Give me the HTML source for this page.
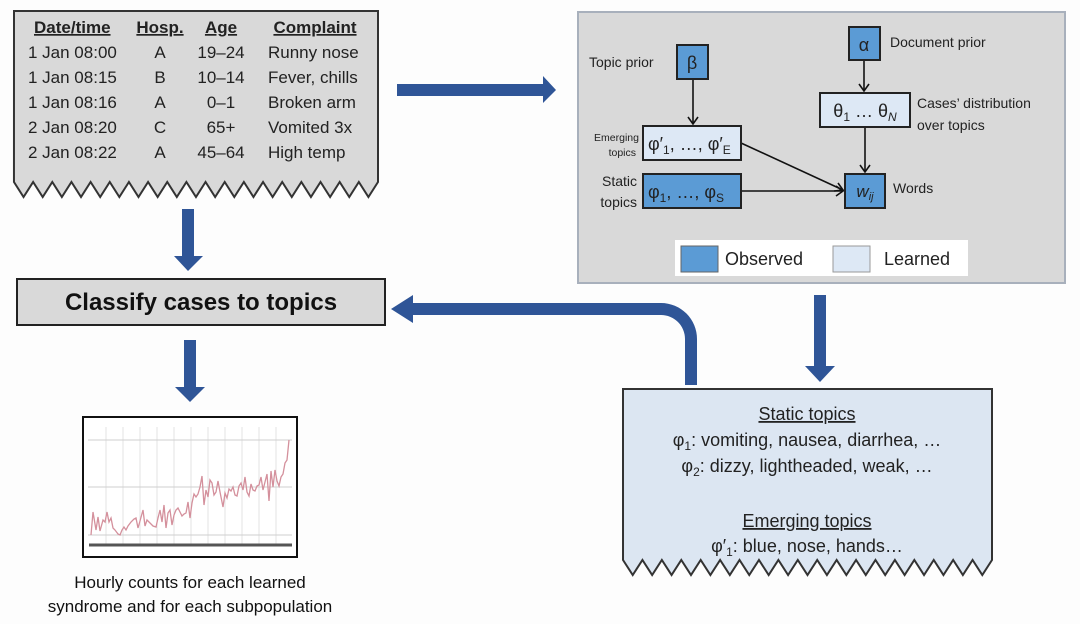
<!DOCTYPE html>
<html><head><meta charset="utf-8"><style>
html,body{margin:0;padding:0;background:#fff;}
svg{display:block;font-family:"Liberation Sans","DejaVu Sans",sans-serif;}
</style></head><body>
<svg width="1080" height="624" viewBox="0 0 1080 624" xmlns="http://www.w3.org/2000/svg">
<rect width="1080" height="624" fill="#fdfdfd"/>
<!-- table document -->
<path d="M14,11 H378 V182 l-9.58,15 l-9.58,-15 l-9.58,15 l-9.58,-15 l-9.58,15 l-9.58,-15 l-9.58,15 l-9.58,-15 l-9.58,15 l-9.58,-15 l-9.58,15 l-9.58,-15 l-9.58,15 l-9.58,-15 l-9.58,15 l-9.58,-15 l-9.58,15 l-9.58,-15 l-9.58,15 l-9.58,-15 l-9.58,15 l-9.58,-15 l-9.58,15 l-9.58,-15 l-9.58,15 l-9.58,-15 l-9.58,15 l-9.58,-15 l-9.58,15 l-9.58,-15 l-9.58,15 l-9.58,-15 l-9.58,15 l-9.58,-15 l-9.58,15 l-9.58,-15 l-9.58,15 l-9.58,-15 Z" fill="#d9d9d9" stroke="#333" stroke-width="2"/>
<g font-size="17" fill="#222">
<g font-weight="bold" text-decoration="underline">
<text x="34" y="33">Date/time</text>
<text x="160" y="33" text-anchor="middle">Hosp.</text>
<text x="221" y="33" text-anchor="middle">Age</text>
<text x="315" y="33" text-anchor="middle">Complaint</text>
</g>
<text x="28" y="58">1 Jan 08:00</text><text x="160" y="58" text-anchor="middle">A</text><text x="221" y="58" text-anchor="middle">19–24</text><text x="268" y="58">Runny nose</text>
<text x="28" y="83">1 Jan 08:15</text><text x="160" y="83" text-anchor="middle">B</text><text x="221" y="83" text-anchor="middle">10–14</text><text x="268" y="83">Fever, chills</text>
<text x="28" y="108">1 Jan 08:16</text><text x="160" y="108" text-anchor="middle">A</text><text x="221" y="108" text-anchor="middle">0–1</text><text x="268" y="108">Broken arm</text>
<text x="28" y="133">2 Jan 08:20</text><text x="160" y="133" text-anchor="middle">C</text><text x="221" y="133" text-anchor="middle">65+</text><text x="268" y="133">Vomited 3x</text>
<text x="28" y="158">2 Jan 08:22</text><text x="160" y="158" text-anchor="middle">A</text><text x="221" y="158" text-anchor="middle">45–64</text><text x="268" y="158">High temp</text>
</g>
<!-- blue arrows -->
<g fill="#2f5597">
<polygon points="397,84 543,84 543,76 556,90 543,103 543,96 397,96"/>
<polygon points="182,209 194,209 194,256 203,256 188,271 174,256 182,256"/>
<polygon points="184,340 196,340 196,387 205,387 190,402 175,387 184,387"/>
<polygon points="814,295 826,295 826,366 835,366 820,382 805,366 814,366"/>
<path d="M391,309 L413,295 L413,303 L661,303 A36,36 0 0 1 697,339 L697,385 L685,385 L685,339 A24,24 0 0 0 661,315 L413,315 L413,323 Z"/>
</g>
<!-- classify -->
<rect x="17" y="279" width="368" height="46" fill="#d9d9d9" stroke="#222" stroke-width="2"/>
<text x="201" y="310" font-size="24" font-weight="bold" text-anchor="middle" fill="#111">Classify cases to topics</text>
<!-- chart -->
<rect x="83" y="417" width="214" height="140" fill="#fff" stroke="#111" stroke-width="2"/>
<g stroke="#e3e3e3" stroke-width="1">
<line x1="106" y1="427" x2="106" y2="545"/><line x1="123" y1="427" x2="123" y2="545"/><line x1="140" y1="427" x2="140" y2="545"/><line x1="157" y1="427" x2="157" y2="545"/><line x1="174" y1="427" x2="174" y2="545"/><line x1="191" y1="427" x2="191" y2="545"/><line x1="208" y1="427" x2="208" y2="545"/><line x1="225" y1="427" x2="225" y2="545"/><line x1="242" y1="427" x2="242" y2="545"/><line x1="259" y1="427" x2="259" y2="545"/><line x1="276" y1="427" x2="276" y2="545"/>
</g>
<g stroke="#cfcfcf" stroke-width="1">
<line x1="88" y1="440" x2="292" y2="440"/><line x1="88" y1="487" x2="292" y2="487"/><line x1="88" y1="535" x2="292" y2="535"/>
</g>
<line x1="89" y1="545" x2="292" y2="545" stroke="#555" stroke-width="3"/>
<polyline fill="none" stroke="#d4909c" stroke-width="1.3" points="91,535 93,512 96,530 98,517 100,531 103,520 105,522 107,512 109,522 111,518 113,528 115,530 118,534 120,535 122,530 124,527 126,530 128,526 131,522 134,519 136,518 138,528 140,521 143,510 145,526 147,520 149,522 151,524 153,526 156,527 158,518 160,510 162,522 164,505 166,528 168,513 170,510 172,525 174,515 176,510 178,508 180,512 182,516 184,514 186,513 188,502 190,518 192,503 194,494 196,497 198,494 200,487 202,476 204,505 206,490 208,497 210,480 212,483 214,495 216,492 218,481 220,492 223,507 225,493 227,498 229,489 231,491 233,487 235,495 237,496 239,486 241,483 243,490 245,477 247,492 249,496 251,484 253,490 255,491 257,486 259,485 261,477 263,490 265,482 267,474 269,501 271,471 273,487 275,470 277,481 279,486 281,477 283,474 285,463 287,460 289,440"/>
<g font-size="17" fill="#111" text-anchor="middle">
<text x="190" y="588">Hourly counts for each learned</text>
<text x="190" y="612">syndrome and for each subpopulation</text>
</g>
<!-- right panel -->
<rect x="578" y="12" width="487" height="271" fill="#d9d9d9" stroke="#a8b0bc" stroke-width="2"/>
<g stroke="#111" stroke-width="1.6" fill="none">
<line x1="693" y1="79" x2="693" y2="124"/><polyline points="688,117 693,124 698,117"/>
<line x1="864" y1="60" x2="864" y2="91"/><polyline points="859,84 864,91 869,84"/>
<line x1="865" y1="127" x2="865" y2="172"/><polyline points="860,165 865,172 870,165"/>
<line x1="741" y1="143" x2="843" y2="190"/><polyline points="834,191 843,190 838,183"/>
<line x1="741" y1="191" x2="843" y2="191"/><polyline points="836,186 843,191 836,196"/>
</g>
<g stroke="#222" stroke-width="2">
<rect x="677" y="45" width="31" height="34" fill="#5b9bd5"/>
<rect x="849" y="27" width="31" height="33" fill="#5b9bd5"/>
<rect x="820" y="93" width="90" height="34" fill="#dde8f5"/>
<rect x="643" y="126" width="98" height="34" fill="#dde8f5"/>
<rect x="643" y="174" width="98" height="34" fill="#5b9bd5"/>
<rect x="845" y="174" width="40" height="34" fill="#5b9bd5"/>
</g>
<g fill="#222">
<text x="692" y="69" font-size="18" text-anchor="middle">β</text>
<text x="864" y="51" font-size="18" text-anchor="middle">α</text>
<text x="865" y="117" font-size="18" text-anchor="middle">θ<tspan font-size="12" dy="4">1</tspan><tspan dy="-4"> … θ</tspan><tspan font-size="12" dy="4" font-style="italic">N</tspan></text>
<text x="648" y="150" font-size="18">φ′<tspan font-size="12" dy="4">1</tspan><tspan dy="-4">, …, φ′</tspan><tspan font-size="12" dy="4">E</tspan></text>
<text x="648" y="198" font-size="18">φ<tspan font-size="12" dy="4">1</tspan><tspan dy="-4">, …, φ</tspan><tspan font-size="12" dy="4">S</tspan></text>
<text x="865" y="197" font-size="17" font-style="italic" text-anchor="middle">w<tspan font-size="11" dy="3">ij</tspan></text>
<g font-size="14">
<text x="589" y="67">Topic prior</text>
<text x="890" y="47">Document prior</text>
<text x="917" y="108">Cases’ distribution</text>
<text x="917" y="130">over topics</text>
<text x="893" y="193">Words</text>
<text x="637" y="186" text-anchor="end">Static</text>
<text x="637" y="207" text-anchor="end">topics</text>
</g>
<g font-size="10.5" text-anchor="end">
<text x="639" y="141">Emerging</text>
<text x="636" y="156">topics</text>
</g>
</g>
<rect x="675" y="240" width="293" height="36" fill="#fff"/>
<rect x="681" y="246" width="37" height="26" fill="#5b9bd5" stroke="#666"/>
<rect x="833" y="246" width="37" height="26" fill="#dde8f5" stroke="#999"/>
<text x="725" y="265" font-size="18" fill="#222">Observed</text>
<text x="884" y="265" font-size="18" fill="#222">Learned</text>
<!-- blue doc -->
<path d="M623,389 H992 V560 l-9.71,15 l-9.71,-15 l-9.71,15 l-9.71,-15 l-9.71,15 l-9.71,-15 l-9.71,15 l-9.71,-15 l-9.71,15 l-9.71,-15 l-9.71,15 l-9.71,-15 l-9.71,15 l-9.71,-15 l-9.71,15 l-9.71,-15 l-9.71,15 l-9.71,-15 l-9.71,15 l-9.71,-15 l-9.71,15 l-9.71,-15 l-9.71,15 l-9.71,-15 l-9.71,15 l-9.71,-15 l-9.71,15 l-9.71,-15 l-9.71,15 l-9.71,-15 l-9.71,15 l-9.71,-15 l-9.71,15 l-9.71,-15 l-9.71,15 l-9.71,-15 l-9.71,15 l-9.71,-15 Z" fill="#dce6f2" stroke="#333" stroke-width="2"/>
<g font-size="18" fill="#222" text-anchor="middle">
<text x="807" y="420" text-decoration="underline">Static topics</text>
<text x="807" y="446">φ<tspan font-size="12" dy="4">1</tspan><tspan dy="-4">: vomiting, nausea, diarrhea, …</tspan></text>
<text x="807" y="472">φ<tspan font-size="12" dy="4">2</tspan><tspan dy="-4">: dizzy, lightheaded, weak, …</tspan></text>
<text x="807" y="527" text-decoration="underline">Emerging topics</text>
<text x="807" y="552">φ′<tspan font-size="12" dy="4">1</tspan><tspan dy="-4">: blue, nose, hands…</tspan></text>
</g>
</svg>
</body></html>
